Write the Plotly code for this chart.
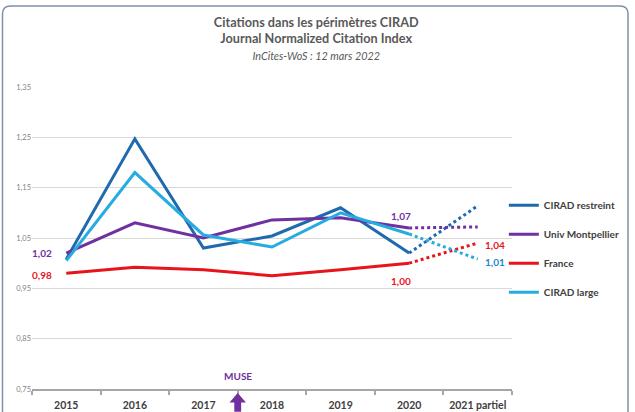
import plotly.graph_objects as go

years = ["2015", "2016", "2017", "2018", "2019", "2020", "2021 partiel"]
cirad_restreint = [1.008, 1.247, 1.030, 1.054, 1.110, 1.020, 1.114]
univ_montpellier = [1.020, 1.080, 1.050, 1.086, 1.090, 1.070, 1.072]
france = [0.980, 0.992, 0.987, 0.975, 0.987, 1.000, 1.040]
cirad_large = [1.005, 1.180, 1.056, 1.032, 1.100, 1.058, 1.008]
y_ticks = [0.75, 0.85, 0.95, 1.05, 1.15, 1.25, 1.35]

series = [
    ("CIRAD restreint", cirad_restreint, "#1F6AAE"),
    ("Univ Montpellier", univ_montpellier, "#7030A0"),
    ("France", france, "#E8141B"),
    ("CIRAD large", cirad_large, "#27ACE2"),
]

FONT = "Lato, Open Sans, sans-serif"
idx = list(range(len(years)))
bounds = [i - 0.5 for i in range(len(years) + 1)]
fig = go.Figure()

for name, vals, col in series:
    fig.add_trace(go.Scatter(
        x=idx[:6], y=vals[:6], mode="lines", name="<b>" + name + "</b>",
        line=dict(color=col, width=3), legendgroup=name,
    ))
for name, vals, col in series:
    fig.add_trace(go.Scatter(
        x=idx[5:], y=vals[5:], mode="lines", showlegend=False,
        line=dict(color=col, width=3, dash="dot"), legendgroup=name,
    ))
# invisible trace to carry the category label axis
fig.add_trace(go.Scatter(x=idx, y=[None] * len(idx), xaxis="x2", showlegend=False,
                         hoverinfo="skip", mode="lines"))

labels = [
    (0, univ_montpellier[0], "1,02", "#7030A0", -24, 0),
    (0, france[0], "0,98", "#E8141B", -24, -2),
    (5, univ_montpellier[5], "1,07", "#7030A0", -8, 12),
    (5, france[5], "1,00", "#E8141B", -8, -18),
    (6, france[6], "1,04", "#E8141B", 17, -2),
    (6, cirad_large[6], "1,01", "#1E84CC", 17, -3),
]
for x, y, t, c, xs, ys in labels:
    fig.add_annotation(x=x, y=y, xref="x", yref="y", text="<b>" + t + "</b>", showarrow=False,
                       xshift=xs, yshift=ys, font=dict(color=c, size=10, family=FONT))

# MUSE marker
fig.add_annotation(x=2.5, y=0.75, xref="x", yref="y", text="<b>MUSE</b>", showarrow=False,
                   yshift=13, font=dict(color="#7030A0", size=10, family=FONT))
fig.add_shape(type="path", xref="x", yref="paper",
              path="M 2.5 -0.013 L 2.38 -0.045 L 2.45 -0.045 L 2.45 -0.075 L 2.55 -0.075 L 2.55 -0.045 L 2.62 -0.045 Z",
              fillcolor="#7030A0", line=dict(width=0))

# rounded frame (open at bottom)
x0, x1, yt, yb, rx, ry = -0.0615, 1.2417, 1.268, -0.11, 0.0167, 0.0265
frame = (f"M {x0} {yb} L {x0} {yt - ry} Q {x0} {yt} {x0 + rx} {yt} "
         f"L {x1 - rx} {yt} Q {x1} {yt} {x1} {yt - ry} L {x1} {yb}")
fig.add_shape(type="path", xref="paper", yref="paper", path=frame,
              line=dict(color="#8090A8", width=1.5), layer="below")

fig.update_layout(
    width=635, height=412,
    margin=dict(l=32, r=123, t=87, b=23, autoexpand=False),
    paper_bgcolor="white", plot_bgcolor="white",
    title=dict(
        text="<b>Citations dans les périmètres CIRAD</b><br><b>Journal Normalized Citation Index</b><br><i><span style='font-size:10.8px'>InCites-WoS : 12 mars 2022</span></i>",
        x=0.498, xanchor="center", y=0.935, yanchor="top",
        font=dict(family=FONT, size=12.7, color="#595959"),
    ),
    font=dict(family=FONT, color="#595959"),
    legend=dict(xref="paper", yref="container", x=0.983, y=0.537, xanchor="left", yanchor="top",
                font=dict(size=10, color="#404040", family=FONT),
                tracegroupgap=10, itemwidth=30, bgcolor="rgba(0,0,0,0)"),
    showlegend=True,
    xaxis=dict(
        tickmode="array", tickvals=bounds, ticktext=[""] * len(bounds),
        showline=True, linecolor="#A6A6A6", linewidth=2,
        ticks="outside", ticklen=4, tickwidth=1.5, tickcolor="#A6A6A6",
        showgrid=False, zeroline=False, range=[-0.5, 6.5],
    ),
    xaxis2=dict(
        overlaying="x", side="bottom", matches="x", range=[-0.5, 6.5],
        tickmode="array", tickvals=idx, ticktext=["<b>" + y + "</b>" for y in years],
        ticks="", showline=False, showgrid=False, zeroline=False, ticklabelstandoff=8,
        tickfont=dict(size=10.5, color="#404040", family=FONT),
    ),
    yaxis=dict(
        range=[0.75, 1.35], tickvals=y_ticks, ticktext=[f"{v:.2f}".replace(".", ",") for v in y_ticks],
        showgrid=True, gridcolor="#D9D9D9", gridwidth=1, zeroline=False,
        showline=False, tickfont=dict(size=7.5, color="#7F7F7F", family=FONT),
        ticklabelstandoff=0,
    ),
)

fig.write_html("out.html", config={"displayModeBar": False},
               post_script="document.body.style.margin='0';")
